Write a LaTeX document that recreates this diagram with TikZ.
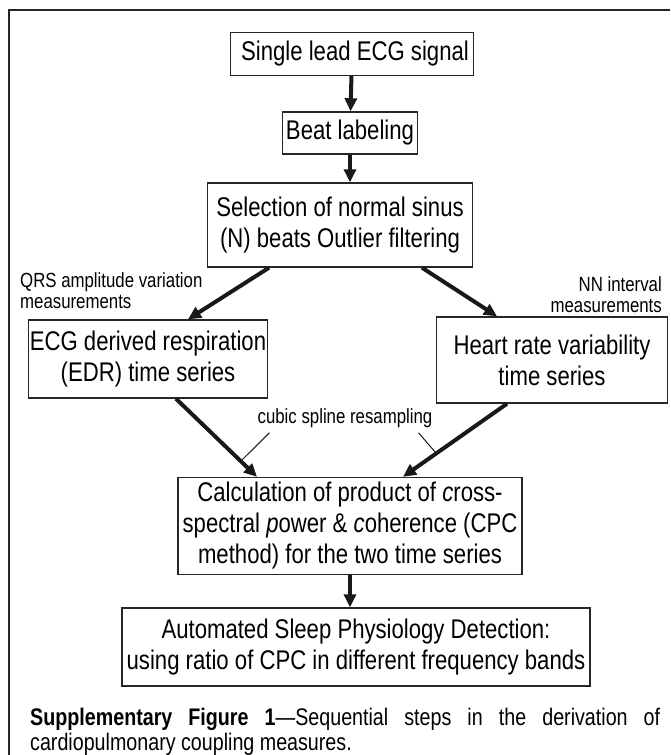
\documentclass[tikz,border=0pt]{standalone}
\usepackage{fontspec}
\setmainfont[FakeStretch=0.82]{Liberation Sans}
\usetikzlibrary{arrows.meta}

\tikzset{
  stepbox/.style={draw=black!85, line width=1.4pt, inner sep=0pt, align=center,
    font=\fontsize{27}{31}\selectfont},
  flow/.style={-{Triangle[length=13pt,width=12pt]}, line width=4pt, black!90},
  note/.style={font=\fontsize{20.5}{21}\selectfont, inner sep=0pt},
  pointer/.style={line width=1pt, black!90}
}

\begin{document}
\begin{tikzpicture}[x=1pt,y=-1pt]
%
\useasboundingbox (0,0) rectangle (670,755);
\draw [line width=1.6pt, black!85] (9,755) -- (9,10) -- (670,10);

         \node [stepbox, minimum width=243pt, minimum height=43pt] (ecg)  at (352,54)  {\hspace*{6pt}Single lead ECG signal};
         \node [stepbox, minimum width=135pt, minimum height=42pt] (beat) at (350,133) {Beat labeling};
         \node [stepbox, minimum width=265pt, minimum height=84pt] (sel)  at (340,225) {Selection of normal sinus\\(N) beats Outlier filtering};
         \node [stepbox, minimum width=239pt, minimum height=78pt] (edr)  at (148,359) {ECG derived respiration\\(EDR) time series};
         \node [stepbox, minimum width=231pt, minimum height=86pt] (hrv)  at (552,360) {Heart rate variability\\time series};
         \node [stepbox, minimum width=344pt, minimum height=97pt] (cpc)  at (350,526) {Calculation of product of \textit{c}ross-\\spectral \textit{p}ower \& \textit{c}oherence (CPC\\method) for the two time series};
         \node [stepbox, minimum width=468pt, minimum height=78pt] (auto) at (356,647) {Automated Sleep Physiology Detection:\\using ratio of CPC in different frequency bands};

         \node [note, anchor=west, align=left]  (qrs)   at (20,291)  {QRS amplitude variation\\measurements};
         \node [note, anchor=east, align=right] (nn)    at (662,295) {NN interval\\measurements};
         \node [note]                           (cubic) at (345,418) {cubic spline resampling};

         \draw [flow] (ecg) -- (beat);
         \draw [flow] (beat.south) -- (beat.south |- sel.north);
         \draw [flow] ([xshift=-71pt]sel.south) -- ([xshift=40pt]edr.north);
         \draw [flow] ([xshift=82pt]sel.south) -- ([xshift=-55pt]hrv.north);
         \draw [flow] ([xshift=28pt]edr.south) -- coordinate[pos=0.8] (lhit) ([xshift=-93pt]cpc.north);
         \draw [flow] ([xshift=-45pt]hrv.south) -- coordinate[pos=0.68] (rhit) ([xshift=53pt]cpc.north);
         \draw [flow] (cpc.south) -- (cpc.south |- auto.north);

         \draw [pointer] ([xshift=12pt,yshift=-5pt]cubic.south west) -- (lhit);
         \draw [pointer] ([xshift=-14pt,yshift=-5pt]cubic.south east) -- (rhit);

         \node [anchor=north west, inner sep=0pt, text width=630pt, align=justify,
                font=\fontsize{24}{25}\selectfont] (cap) at (30,708)
               {\textbf{Supplementary Figure 1}---Sequential steps in the derivation of\linebreak cardiopulmonary coupling measures.};

\end{tikzpicture}
\end{document}
